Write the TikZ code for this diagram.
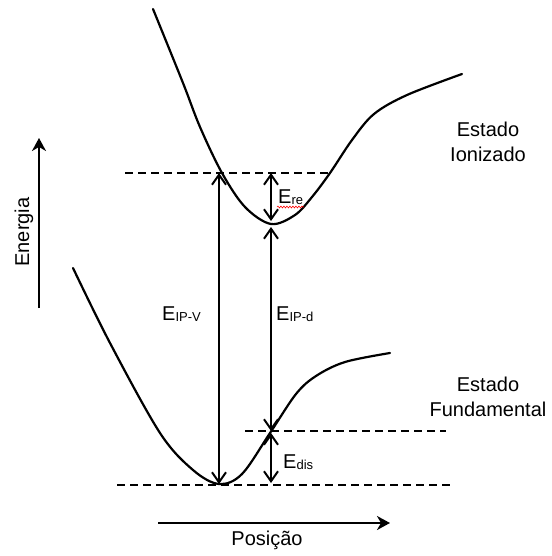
\documentclass[tikz,border=0pt]{standalone}
\usepackage{fontspec}
\setmainfont{Liberation Sans}
\usetikzlibrary{arrows.meta,decorations.pathmorphing}
\newcommand{\indice}[1]{{\fontsize{13}{13}\selectfont\raisebox{-1.5pt}{#1}}}
\tikzset{
  curva/.style={line width=2.2pt, line cap=round, smooth, tension=0.55},
  nivel/.style={line width=2.2pt, dash pattern=on 8pt off 5pt},
  transicao/.style={{Straight Barb[length=10pt, width=14pt]}-{Straight Barb[length=10pt, width=14pt]}, line width=2pt},
  eixo/.style={-{Stealth[length=13pt, width=14pt, inset=4pt]}, line width=2pt},
  rotulo/.style={font=\fontsize{20}{25}\selectfont, inner sep=0pt},
  estado/.style={rotulo, align=center, anchor=north},
  sublinhado/.style={red, line width=0.6pt, decorate, decoration={snake, amplitude=0.9pt, segment length=3pt}},
}

\begin{document}
\begin{tikzpicture}[x=1pt, y=-1pt]
  \useasboundingbox (0,0) rectangle (551,556);

  % ---------------- curvas de energia potencial ----------------
  \draw[curva] plot coordinates {(153,9) (183,83) (200,127) (222,173) (245,207)
    (271,224) (295,215) (312,197) (330,173) (352,140) (374,114) (407,95) (462,74)};
  \draw[curva] plot coordinates {(73,268) (110,343) (160,433) (193,470) (219,484)
    (242,474) (270,433) (296,394) (316,376) (345,362) (390,353)};

  % ---------------- niveis ----------------
  \draw[nivel] (125,173) -- (328,173);
  \draw[nivel] (245,431) -- (446,431);
  \draw[nivel] (117,485) -- (452,485);

  % ---------------- transicoes ----------------
  \coordinate (vertSup) at (219,173);
  \coordinate (vertInf) at (219,484);
  \coordinate (reSup)   at (271,173);
  \coordinate (reInf)   at (271,221);
  \coordinate (adSup)   at (271,227);
  \coordinate (adInf)   at (271,431);
  \coordinate (disSup)  at (271,433);
  \coordinate (disInf)  at (271,483);
  \draw[transicao] (vertSup) -- (vertInf);
  \draw[transicao] (reSup) -- (reInf);
  \draw[transicao] (adSup) -- (adInf);
  \draw[transicao] (disSup) -- (disInf);

  \node[rotulo, anchor=base west] (ipv) at (162,320) {E\indice{IP-V}};
  \node[rotulo, anchor=base west] (ipd) at (276,320) {E\indice{IP-d}};
  \node[rotulo, anchor=base west] (ere) at (278,203) {E\indice{re}};
  \node[rotulo, anchor=base west] (edis) at (283,468) {E\indice{dis}};
  \draw[sublinhado] (277,207) -- (304,207);

  % ---------------- estados ----------------
  \node[estado] (ionizado) at (488,122) {Estado\\Ionizado};
  \node[estado] (fundamental) at (488,377) {Estado\\Fundamental};

  % ---------------- eixos ----------------
  \coordinate (energiaIni) at (39,308);
  \coordinate (energiaFim) at (39,138);
  \coordinate (posicaoIni) at (158,523);
  \coordinate (posicaoFim) at (390,523);
  \draw[eixo] (energiaIni) -- (energiaFim);
  \draw[eixo] (posicaoIni) -- (posicaoFim);
  \node[rotulo, rotate=90, anchor=base] (energia) at (29,232) {Energia};
  \node[rotulo, anchor=base] (posicao) at (267,545) {Posição};
\end{tikzpicture}
\end{document}
